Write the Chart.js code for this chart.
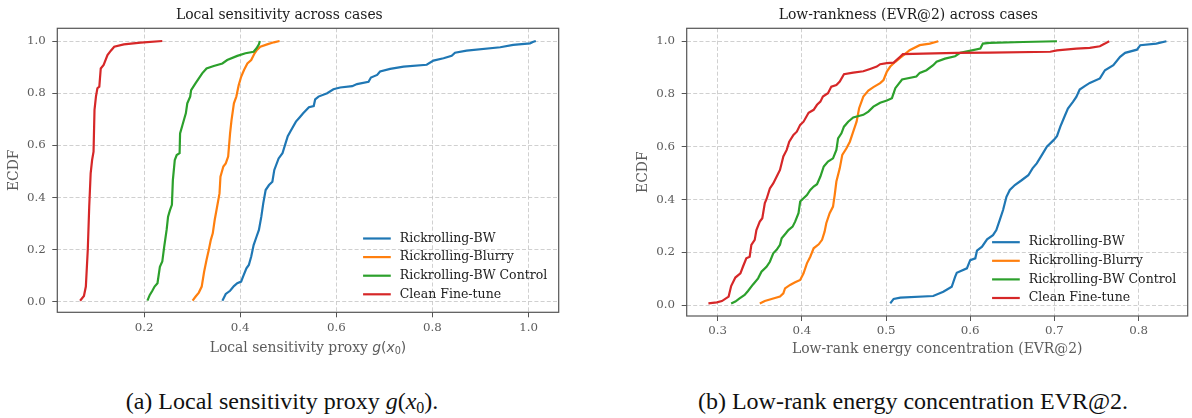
<!DOCTYPE html>
<html>
<head>
<meta charset="utf-8">
<title>ECDF comparison</title>
<script src="https://cdn.jsdelivr.net/npm/chart.js@4.4.1/dist/chart.umd.min.js"></script>
<style>
  html, body { margin: 0; padding: 0; background: #fff; width: 1192px; height: 418px; overflow: hidden; }
  canvas { position: absolute; top: 0; }
  #sens { left: 0; }
  #evr { left: 629px; }
  .caption {
    position: absolute; top: 389px; width: 600px; margin-left: -300px;
    text-align: center; font: 24px "Liberation Serif", "Times New Roman", serif;
    line-height: 24px; color: #111; white-space: nowrap;
  }
  .caption sub { font-size: 16px; vertical-align: -4px; line-height: 0; }
</style>
</head>
<body>
<canvas id="sens" width="596" height="365"></canvas>
<canvas id="evr" width="563" height="365"></canvas>
<div class="caption" style="left:282px">(a) Local sensitivity proxy <i>g</i>(<i>x</i><sub>0</sub>).</div>
<div class="caption" style="left:913px">(b) Low-rank energy concentration EVR@2.</div>
<script>
// ---- series names and colours ----
const seriesNames = ['Rickrolling-BW', 'Rickrolling-Blurry', 'Rickrolling-BW Control', 'Clean Fine-tune'];
const seriesColors = ['#1f77b4', '#ff7f0e', '#2ca02c', '#d62728'];

// ---- tick values ----
const ecdfTicks = [0.0, 0.2, 0.4, 0.6, 0.8, 1.0];
const sensTicks = [0.2, 0.4, 0.6, 0.8, 1.0];
const evrTicks = [0.3, 0.4, 0.5, 0.6, 0.7, 0.8];

// ---- local sensitivity proxy g(x0): ECDF steps ----
const sensBW_x = [0.363,0.370,0.379,0.387,0.394,0.402,0.406,0.413,0.418,0.423,0.428,0.434,0.439,0.444,0.448,0.453,0.460,0.467,0.471,0.480,0.488,0.494,0.499,0.505,0.516,0.524,0.531,0.543,0.553,0.556,0.563,0.581,0.594,0.608,0.633,0.643,0.667,0.672,0.685,0.691,0.712,0.740,0.788,0.802,0.823,0.840,0.847,0.871,0.941,0.968,1.003,1.010,1.015];
const sensBW_y = [0.005,0.031,0.043,0.061,0.072,0.078,0.097,0.129,0.142,0.174,0.218,0.250,0.276,0.327,0.378,0.429,0.448,0.461,0.506,0.550,0.570,0.606,0.635,0.655,0.691,0.708,0.723,0.746,0.751,0.776,0.787,0.800,0.815,0.822,0.827,0.835,0.844,0.860,0.870,0.883,0.893,0.902,0.909,0.925,0.934,0.943,0.955,0.963,0.976,0.985,0.991,0.997,1.000];

const sensBlurry_x = [0.301,0.307,0.314,0.320,0.325,0.330,0.335,0.339,0.343,0.347,0.352,0.357,0.359,0.365,0.370,0.375,0.379,0.382,0.387,0.392,0.397,0.402,0.408,0.415,0.423,0.430,0.435,0.442,0.456,0.470,0.482];
const sensBlurry_y = [0.005,0.020,0.036,0.059,0.116,0.161,0.202,0.238,0.263,0.314,0.365,0.416,0.480,0.519,0.531,0.557,0.646,0.697,0.761,0.787,0.831,0.863,0.889,0.914,0.927,0.953,0.966,0.978,0.987,0.995,1.000];

const sensControl_x = [0.207,0.212,0.217,0.222,0.228,0.233,0.238,0.242,0.247,0.250,0.254,0.258,0.260,0.264,0.268,0.274,0.275,0.280,0.284,0.287,0.290,0.296,0.298,0.307,0.314,0.321,0.330,0.345,0.363,0.373,0.394,0.411,0.428,0.434,0.439,0.441];
const sensControl_y = [0.005,0.027,0.042,0.059,0.072,0.135,0.155,0.212,0.276,0.327,0.352,0.372,0.467,0.544,0.563,0.570,0.646,0.678,0.704,0.723,0.761,0.787,0.812,0.838,0.857,0.876,0.895,0.904,0.914,0.927,0.943,0.953,0.959,0.972,0.987,1.000];

const sensClean_x = [0.067,0.075,0.079,0.083,0.086,0.089,0.092,0.095,0.097,0.100,0.103,0.107,0.110,0.116,0.124,0.131,0.138,0.158,0.193,0.238];
const sensClean_y = [0.005,0.023,0.059,0.200,0.365,0.493,0.544,0.576,0.736,0.787,0.819,0.825,0.895,0.908,0.946,0.963,0.978,0.987,0.994,1.000];

// ---- low-rank energy concentration EVR@2: ECDF steps ----
const evrBW_x = [0.505,0.509,0.517,0.556,0.568,0.578,0.582,0.584,0.596,0.600,0.606,0.608,0.614,0.620,0.627,0.631,0.635,0.639,0.643,0.647,0.653,0.661,0.669,0.674,0.679,0.685,0.691,0.699,0.703,0.707,0.711,0.716,0.722,0.726,0.730,0.736,0.742,0.754,0.760,0.770,0.778,0.784,0.798,0.802,0.821,0.833];
const evrBW_y = [0.006,0.023,0.028,0.034,0.050,0.069,0.107,0.122,0.139,0.170,0.177,0.206,0.221,0.249,0.265,0.284,0.322,0.360,0.410,0.436,0.455,0.473,0.492,0.518,0.537,0.568,0.600,0.625,0.640,0.676,0.707,0.745,0.770,0.789,0.817,0.830,0.842,0.859,0.890,0.909,0.941,0.956,0.968,0.985,0.991,1.000];

const evrBlurry_x = [0.350,0.356,0.364,0.374,0.378,0.380,0.386,0.392,0.398,0.402,0.406,0.410,0.414,0.420,0.424,0.427,0.429,0.433,0.437,0.439,0.441,0.445,0.448,0.453,0.457,0.461,0.465,0.468,0.473,0.479,0.485,0.493,0.497,0.501,0.505,0.511,0.517,0.522,0.528,0.540,0.552,0.562];
const evrBlurry_y = [0.006,0.015,0.023,0.032,0.044,0.063,0.076,0.086,0.095,0.120,0.158,0.183,0.215,0.230,0.247,0.278,0.310,0.348,0.373,0.417,0.468,0.518,0.569,0.594,0.619,0.657,0.695,0.746,0.790,0.813,0.826,0.841,0.853,0.885,0.904,0.922,0.938,0.950,0.966,0.985,0.991,1.000];

const evrControl_x = [0.316,0.321,0.326,0.332,0.336,0.342,0.348,0.352,0.358,0.362,0.366,0.370,0.374,0.376,0.381,0.384,0.389,0.392,0.396,0.398,0.402,0.406,0.410,0.414,0.418,0.422,0.426,0.431,0.437,0.441,0.443,0.447,0.450,0.455,0.461,0.473,0.479,0.485,0.493,0.501,0.507,0.511,0.519,0.536,0.540,0.548,0.556,0.560,0.570,0.582,0.588,0.612,0.615,0.623,0.663,0.703];
const evrControl_y = [0.006,0.013,0.025,0.038,0.053,0.078,0.101,0.126,0.145,0.164,0.196,0.209,0.228,0.253,0.272,0.284,0.297,0.316,0.348,0.392,0.405,0.417,0.436,0.449,0.458,0.487,0.525,0.544,0.556,0.588,0.632,0.651,0.676,0.695,0.711,0.721,0.733,0.752,0.767,0.775,0.784,0.822,0.855,0.866,0.880,0.890,0.909,0.922,0.934,0.943,0.956,0.972,0.991,0.994,0.997,1.000];

const evrClean_x = [0.289,0.299,0.305,0.313,0.316,0.321,0.327,0.330,0.334,0.338,0.340,0.344,0.346,0.350,0.353,0.356,0.358,0.362,0.366,0.371,0.374,0.378,0.382,0.385,0.390,0.394,0.398,0.402,0.408,0.414,0.418,0.422,0.425,0.431,0.435,0.441,0.445,0.450,0.461,0.473,0.481,0.489,0.493,0.501,0.509,0.517,0.520,0.544,0.584,0.623,0.695,0.703,0.726,0.742,0.754,0.760,0.765];
const evrClean_y = [0.006,0.010,0.015,0.032,0.072,0.104,0.120,0.145,0.177,0.183,0.228,0.247,0.284,0.316,0.329,0.386,0.401,0.442,0.461,0.493,0.512,0.563,0.588,0.619,0.645,0.657,0.683,0.695,0.729,0.740,0.759,0.771,0.790,0.803,0.828,0.834,0.847,0.875,0.881,0.886,0.895,0.904,0.913,0.917,0.919,0.942,0.951,0.953,0.956,0.957,0.960,0.965,0.972,0.975,0.981,0.991,1.000];

// ---- shared styling ----
Chart.defaults.font.family = '"DejaVu Serif", serif';
Chart.defaults.color = '#606060';
const GRID = '#c4c4c4';
const FRAME = '#555555';
const LABEL = '#5c5c5c';
const TICK_SIZE = 11.8;
const LABEL_SIZE = 13.9;
const LINE_WIDTH = 2.2;

function toPoints(xs, ys) {
  return xs.map((x, i) => ({ x: x, y: ys[i] }));
}

function makeDatasets(pairs) {
  return pairs.map((p, i) => ({
    label: seriesNames[i],
    data: toPoints(p[0], p[1]),
    borderColor: seriesColors[i],
    backgroundColor: seriesColors[i],
    borderWidth: LINE_WIDTH,
    pointRadius: 0,
    tension: 0,
    fill: false,
    order: pairs.length - i
  }));
}

// box around the plotting area
const frameBox = {
  id: 'frameBox',
  afterDatasetsDraw(chart) {
    const { ctx, chartArea: a } = chart;
    ctx.save();
    ctx.strokeStyle = FRAME;
    ctx.lineWidth = 1.2;
    ctx.strokeRect(a.left, a.top, a.right - a.left, a.bottom - a.top);
    ctx.restore();
  }
};

// legend in the lower-right corner of the plotting area
const cornerLegend = {
  id: 'cornerLegend',
  afterDraw(chart, args, opts) {
    const { ctx, chartArea: a } = chart;
    const sets = chart.data.datasets;
    ctx.save();
    ctx.font = opts.font;
    const w = Math.max(...sets.map(d => ctx.measureText(d.label).width));
    const tx = a.right - opts.right - w;
    sets.forEach((d, i) => {
      const y = a.bottom - opts.bottom - (sets.length - 1 - i) * opts.rowHeight;
      ctx.strokeStyle = d.borderColor;
      ctx.lineWidth = LINE_WIDTH;
      ctx.beginPath();
      ctx.moveTo(tx - 36.7, y);
      ctx.lineTo(tx - 9, y);
      ctx.stroke();
      ctx.fillStyle = '#222';
      ctx.textBaseline = 'middle';
      ctx.textAlign = 'left';
      ctx.fillText(d.label, tx, y);
    });
    ctx.restore();
  }
};

// x-axis title with inline math, drawn piece by piece
const mathAxisTitle = {
  id: 'mathAxisTitle',
  afterDraw(chart, args, opts) {
    if (!opts.parts) return;
    const { ctx, chartArea: a } = chart;
    ctx.save();
    ctx.fillStyle = LABEL;
    ctx.textBaseline = 'alphabetic';
    ctx.textAlign = 'left';
    let total = 0;
    opts.parts.forEach(p => { ctx.font = p.font; total += ctx.measureText(p.text).width; });
    let x = (a.left + a.right) / 2 - total / 2;
    const base = a.bottom + opts.offset;
    opts.parts.forEach(p => {
      ctx.font = p.font;
      ctx.fillText(p.text, x, base + (p.dy || 0));
      x += ctx.measureText(p.text).width;
    });
    ctx.restore();
  }
};

function axisX(ticks, min, max, height, title) {
  return {
    type: 'linear',
    bounds: 'data',
    min: min,
    max: max,
    afterBuildTicks: s => { s.ticks = ticks.map(v => ({ value: v })); },
    afterFit: s => { s.height = height; },
    ticks: {
      autoSkip: false,
      maxRotation: 0,
      padding: 3.3,
      color: LABEL,
      font: { size: TICK_SIZE },
      callback: v => Number(v).toFixed(1)
    },
    grid: { color: GRID, lineWidth: 0.8, tickLength: 5, tickColor: FRAME, tickWidth: 1, tickBorderDash: [] },
    border: { display: false, dash: [4, 2.2] },
    title: title
  };
}

function axisY(min, max) {
  return {
    type: 'linear',
    bounds: 'data',
    min: min,
    max: max,
    afterBuildTicks: s => { s.ticks = ecdfTicks.map(v => ({ value: v })); },
    afterFit: s => { s.width = s.chart.canvas.id === 'sens' ? 57.3 : 57.7; },
    ticks: {
      autoSkip: false,
      padding: 6.6,
      color: LABEL,
      font: { size: TICK_SIZE },
      callback: v => Number(v).toFixed(1)
    },
    grid: { color: GRID, lineWidth: 0.8, tickLength: 5, tickColor: FRAME, tickWidth: 1, tickBorderDash: [] },
    border: { display: false, dash: [4, 2.2] },
    title: { display: true, text: 'ECDF', color: LABEL, font: { size: LABEL_SIZE }, padding: { top: 5.7, bottom: 0 } }
  };
}

function titleOpts(text) {
  return {
    display: true,
    text: text,
    color: '#1a1a1a',
    font: { size: LABEL_SIZE, weight: 'normal' },
    padding: { top: 7.16, bottom: 4.46 }
  };
}

const legendOpts = { font: '12.5px "DejaVu Serif"', right: 11.5, bottom: 18, rowHeight: 18.6 };

new Chart(document.getElementById('sens'), {
  type: 'line',
  data: {
    datasets: makeDatasets([
      [sensBW_x, sensBW_y],
      [sensBlurry_x, sensBlurry_y],
      [sensControl_x, sensControl_y],
      [sensClean_x, sensClean_y]
    ])
  },
  options: {
    responsive: false,
    animation: false,
    devicePixelRatio: 1,
    layout: { padding: { left: 0, right: 37.3, top: 0, bottom: 0 } },
    scales: {
      x: axisX(sensTicks, 0.0196, 1.0626, 52.7, { display: false }),
      y: axisY(-0.0395, 1.0487)
    },
    plugins: {
      legend: { display: false },
      tooltip: { enabled: false },
      title: titleOpts('Local sensitivity across cases'),
      cornerLegend: legendOpts,
      mathAxisTitle: {
        offset: 39.2,
        parts: [
          { text: 'Local sensitivity proxy ', font: LABEL_SIZE + 'px "DejaVu Serif"' },
          { text: 'g', font: 'italic ' + LABEL_SIZE + 'px "DejaVu Sans"' },
          { text: '(', font: LABEL_SIZE + 'px "DejaVu Sans"' },
          { text: 'x', font: 'italic ' + LABEL_SIZE + 'px "DejaVu Sans"' },
          { text: '0', font: '9.7px "DejaVu Sans"', dy: 2.4 },
          { text: ')', font: LABEL_SIZE + 'px "DejaVu Sans"' }
        ]
      }
    }
  },
  plugins: [frameBox, cornerLegend, mathAxisTitle]
});

new Chart(document.getElementById('evr'), {
  type: 'line',
  data: {
    datasets: makeDatasets([
      [evrBW_x, evrBW_y],
      [evrBlurry_x, evrBlurry_y],
      [evrControl_x, evrControl_y],
      [evrClean_x, evrClean_y]
    ])
  },
  options: {
    responsive: false,
    animation: false,
    devicePixelRatio: 1,
    layout: { padding: { left: 0, right: 4.3, top: 0, bottom: 0 } },
    scales: {
      x: axisX(evrTicks, 0.2632, 0.8583, 49, {
        display: true,
        text: 'Low-rank energy concentration (EVR@2)',
        color: LABEL,
        font: { size: LABEL_SIZE },
        padding: { top: 0, bottom: 7.7 }
      }),
      y: axisY(-0.0417, 1.049)
    },
    plugins: {
      legend: { display: false },
      tooltip: { enabled: false },
      title: titleOpts('Low-rankness (EVR@2) across cases'),
      cornerLegend: legendOpts
    }
  },
  plugins: [frameBox, cornerLegend]
});
</script>
</body>
</html>
